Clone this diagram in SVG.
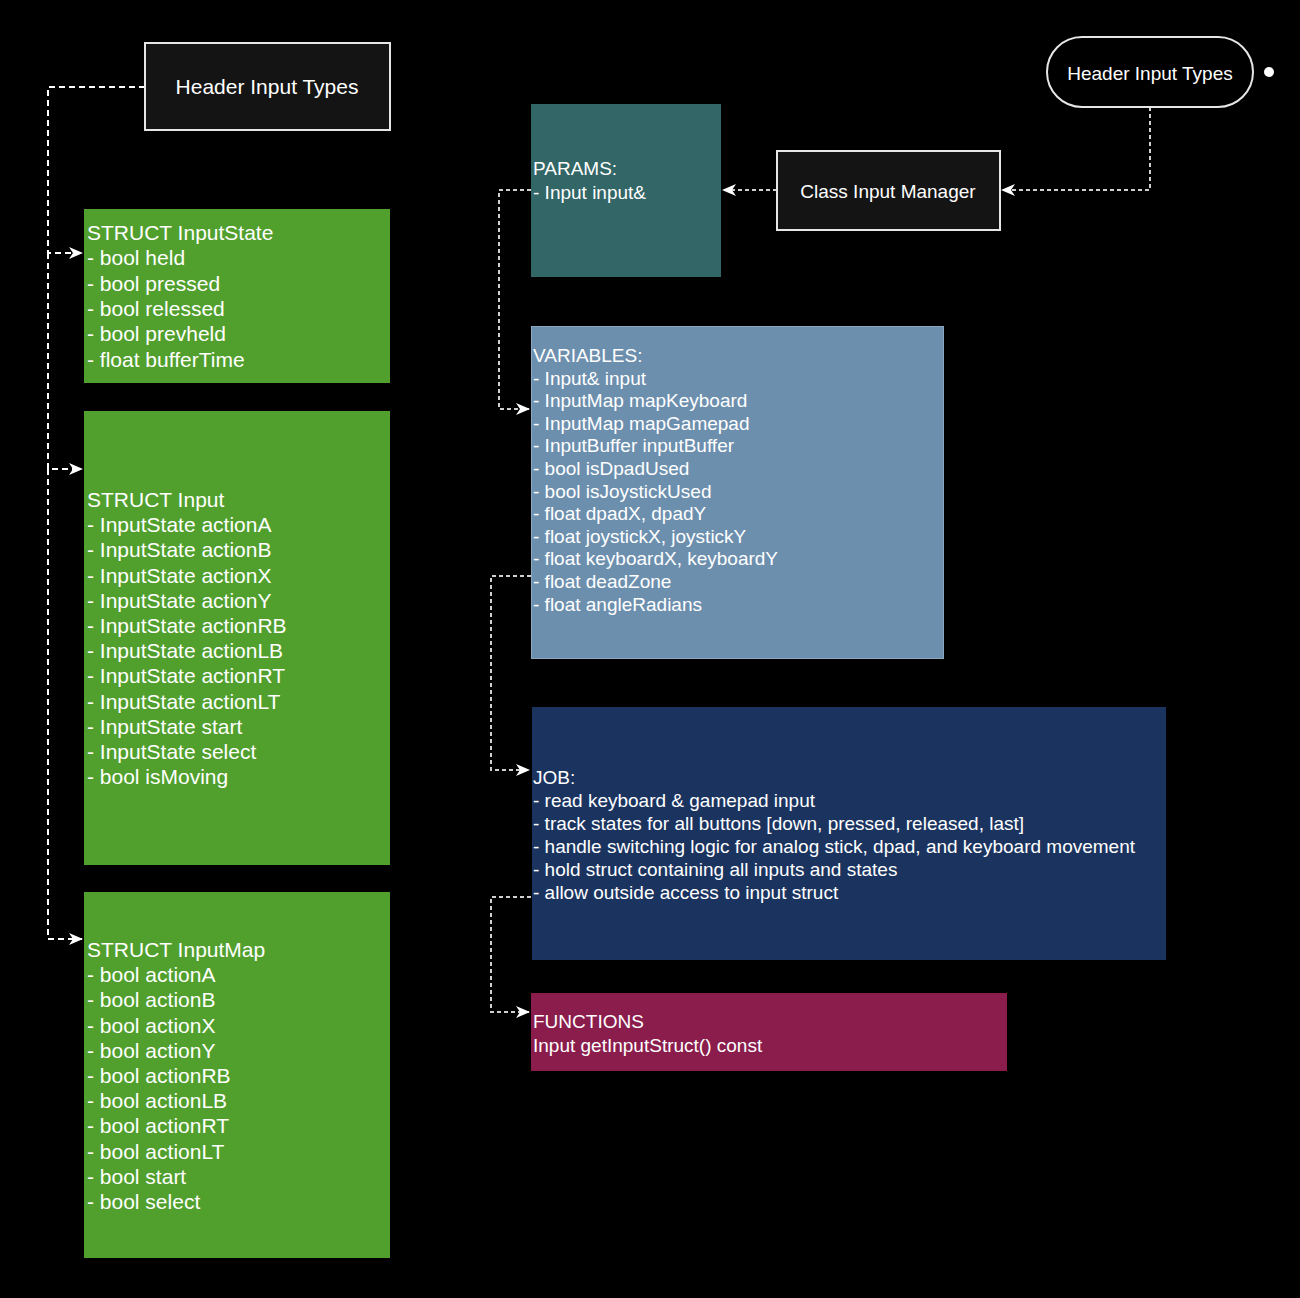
<svg xmlns="http://www.w3.org/2000/svg" width="1300" height="1298" viewBox="0 0 1300 1298">
<defs>
<style>
text{font-family:"Liberation Sans",Arial,sans-serif;fill:#fff}
.g{font-size:21px}
.s{font-size:19px}
.hdr{fill:#141414;stroke:#e6e6e6;stroke-width:2}
.wl{fill:none;stroke:#fff;stroke-width:2;stroke-dasharray:6 4}
.gl{fill:none;stroke:#d0d0d0;stroke-width:2;stroke-dasharray:4 3}
</style>
<marker id="ah" viewBox="0 0 14 12" refX="13" refY="6" markerWidth="14" markerHeight="12" markerUnits="userSpaceOnUse" orient="auto">
<path d="M0,0 L14,6 L0,12 L4,6 Z" fill="#fff"/>
</marker>
</defs>
<rect width="1300" height="1298" fill="#000"/>
<g id="connectors">
<path class="wl" d="M145,87 H48 V253 H82" marker-end="url(#ah)"/>
<path class="wl" d="M48,253 V469 H82" marker-end="url(#ah)"/>
<path class="wl" d="M48,469 V939 H82" marker-end="url(#ah)"/>
<path class="gl" d="M1150,107 V190 H1002" marker-end="url(#ah)"/>
<path class="gl" d="M777,190 H723" marker-end="url(#ah)"/>
<path class="gl" d="M531,190 H499 V409 H529" marker-end="url(#ah)"/>
<path class="gl" d="M531,576 H491 V770 H529" marker-end="url(#ah)"/>
<path class="gl" d="M531,897 H491 V1012 H529" marker-end="url(#ah)"/>
</g>
<g id="header-left">
<rect class="hdr" x="145" y="43" width="245" height="87"/>
<text class="g" x="267" y="94" text-anchor="middle">Header Input Types</text>
</g>
<g id="header-right">
<rect x="1047" y="37" width="206" height="70" rx="35" fill="#000" stroke="#e6e6e6" stroke-width="2"/>
<text class="s" x="1150" y="80" text-anchor="middle">Header Input Types</text>
<circle cx="1269" cy="72" r="5" fill="#fff"/>
</g>
<g id="class-input-manager">
<rect class="hdr" x="777" y="151" width="223" height="79"/>
<text class="s" x="888" y="198" text-anchor="middle">Class Input Manager</text>
</g>
<g id="struct-inputstate">
<rect x="84" y="209" width="306" height="174" fill="#51a02e"/>
<text class="g" x="87" y="240">STRUCT InputState<tspan x="87" dy="25.3">- bool held</tspan><tspan x="87" dy="25.3">- bool pressed</tspan><tspan x="87" dy="25.3">- bool relessed</tspan><tspan x="87" dy="25.3">- bool prevheld</tspan><tspan x="87" dy="25.3">- float bufferTime</tspan></text>
</g>
<g id="struct-input">
<rect x="84" y="411" width="306" height="454" fill="#51a02e"/>
<text class="g" x="87" y="507">STRUCT Input<tspan x="87" dy="25.2">- InputState actionA</tspan><tspan x="87" dy="25.2">- InputState actionB</tspan><tspan x="87" dy="25.2">- InputState actionX</tspan><tspan x="87" dy="25.2">- InputState actionY</tspan><tspan x="87" dy="25.2">- InputState actionRB</tspan><tspan x="87" dy="25.2">- InputState actionLB</tspan><tspan x="87" dy="25.2">- InputState actionRT</tspan><tspan x="87" dy="25.2">- InputState actionLT</tspan><tspan x="87" dy="25.2">- InputState start</tspan><tspan x="87" dy="25.2">- InputState select</tspan><tspan x="87" dy="25.2">- bool isMoving</tspan></text>
</g>
<g id="struct-inputmap">
<rect x="84" y="892" width="306" height="366" fill="#51a02e"/>
<text class="g" x="87" y="957">STRUCT InputMap<tspan x="87" dy="25.2">- bool actionA</tspan><tspan x="87" dy="25.2">- bool actionB</tspan><tspan x="87" dy="25.2">- bool actionX</tspan><tspan x="87" dy="25.2">- bool actionY</tspan><tspan x="87" dy="25.2">- bool actionRB</tspan><tspan x="87" dy="25.2">- bool actionLB</tspan><tspan x="87" dy="25.2">- bool actionRT</tspan><tspan x="87" dy="25.2">- bool actionLT</tspan><tspan x="87" dy="25.2">- bool start</tspan><tspan x="87" dy="25.2">- bool select</tspan></text>
</g>
<g id="params">
<rect x="531" y="104" width="190" height="173" fill="#336666"/>
<text class="s" x="533" y="175">PARAMS:<tspan x="533" dy="24">- Input input&amp;</tspan></text>
</g>
<g id="variables">
<rect x="531.5" y="326.5" width="412" height="332" fill="#6d8fae" stroke="#8aa6c0" stroke-width="1"/>
<text class="s" x="533" y="362">VARIABLES:<tspan x="533" dy="22.6">- Input&amp; input</tspan><tspan x="533" dy="22.6">- InputMap mapKeyboard</tspan><tspan x="533" dy="22.6">- InputMap mapGamepad</tspan><tspan x="533" dy="22.6">- InputBuffer inputBuffer</tspan><tspan x="533" dy="22.6">- bool isDpadUsed</tspan><tspan x="533" dy="22.6">- bool isJoystickUsed</tspan><tspan x="533" dy="22.6">- float dpadX, dpadY</tspan><tspan x="533" dy="22.6">- float joystickX, joystickY</tspan><tspan x="533" dy="22.6">- float keyboardX, keyboardY</tspan><tspan x="533" dy="22.6">- float deadZone</tspan><tspan x="533" dy="22.6">- float angleRadians</tspan></text>
</g>
<g id="job">
<rect x="532" y="707" width="634" height="253" fill="#1b345f"/>
<text class="s" x="533" y="784">JOB:<tspan x="533" dy="23">- read keyboard &amp; gamepad input</tspan><tspan x="533" dy="23">- track states for all buttons [down, pressed, released, last]</tspan><tspan x="533" dy="23">- handle switching logic for analog stick, dpad, and keyboard movement</tspan><tspan x="533" dy="23">- hold struct containing all inputs and states</tspan><tspan x="533" dy="23">- allow outside access to input struct</tspan></text>
</g>
<g id="functions">
<rect x="531" y="993" width="476" height="78" fill="#8a1d4c"/>
<text class="s" x="533" y="1028">FUNCTIONS<tspan x="533" dy="24">Input getInputStruct() const</tspan></text>
</g>
</svg>
